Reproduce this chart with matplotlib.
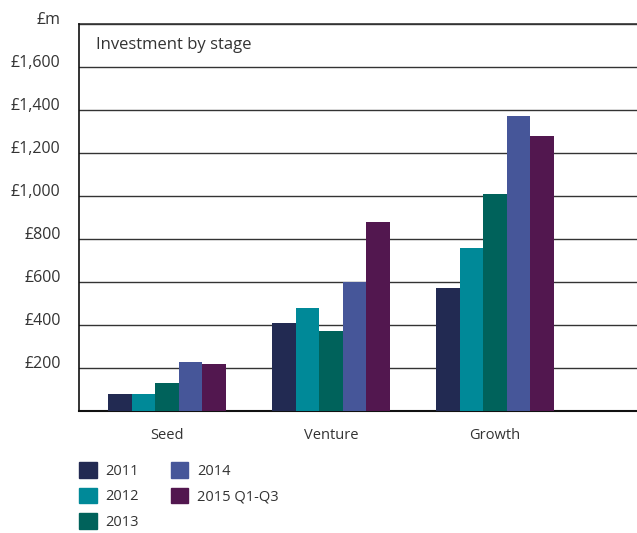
import numpy as np
import matplotlib.pyplot as plt
import matplotlib.transforms as mtransforms
from matplotlib.patches import Patch

plt.rcParams['font.family'] = ['Open Sans', 'DejaVu Sans']

stages = ['Seed', 'Venture', 'Growth']
years = ['2011', '2012', '2013', '2014', '2015 Q1-Q3']
v2011 = [80, 410, 570]
v2012 = [80, 480, 760]
v2013 = [130, 370, 1010]
v2014 = [230, 600, 1370]
v2015 = [220, 880, 1280]
series = [v2011, v2012, v2013, v2014, v2015]
colors = ['#222a52', '#008998', '#00625b', '#465699', '#52174f']

yticks = [200, 400, 600, 800, 1000, 1200, 1400, 1600, 1800]
ytick_labels = ['£200', '£400', '£600', '£800', '£1,000', '£1,200', '£1,400', '£1,600', '£m']

fig = plt.figure(figsize=(6.37, 5.33), dpi=100)
ax = fig.add_axes([78.7/637, 1-411/533, (637-78.7)/637, (411-24)/533])

x = np.arange(len(stages))
w = 0.1435
for i, vals in enumerate(series):
    ax.bar(x + (i - 2) * w, vals, w, color=colors[i], zorder=3, label=years[i])

ax.set_xlim(-0.538, 2.866)
ax.set_ylim(0, 1800)
ax.set_yticks(yticks)
ax.set_yticklabels(ytick_labels, fontsize=11.5, color='#333333')
ax.set_xticks(x)
ax.set_xticklabels(stages, fontsize=10.5, color='#333333')
ax.tick_params(axis='both', length=0)
ax.tick_params(axis='y', pad=13)
ax.tick_params(axis='x', pad=12)
off = mtransforms.ScaledTranslation(0, 4/72, fig.dpi_scale_trans)
for lab in ax.get_yticklabels():
    lab.set_transform(lab.get_transform() + off)

ax.grid(axis='y', color='#333333', linewidth=1, zorder=0)
ax.axhline(1800, color='#333333', linewidth=1.2, clip_on=False, zorder=1)
for s in ['top', 'right']:
    ax.spines[s].set_visible(False)
ax.spines['left'].set_color('#111111')
ax.spines['bottom'].set_color('#111111')
ax.spines['left'].set_linewidth(1.2)
ax.spines['bottom'].set_linewidth(1.5)

ax.text(17/558, 1700, 'Investment by stage', transform=ax.get_yaxis_transform(),
        fontsize=12, color='#333333', va='center')

handles = [Patch(color=c, label=y) for c, y in zip(colors, years)]
fig.legend(handles=handles, ncol=2, loc='upper left', bbox_to_anchor=(66/637, 1-449/533),
           frameon=False, fontsize=10.5, handlelength=1.2, handleheight=1.25,
           columnspacing=2.2, labelspacing=0.62, handletextpad=0.6, labelcolor='#333333')

fig.savefig('out.png', dpi=100)
